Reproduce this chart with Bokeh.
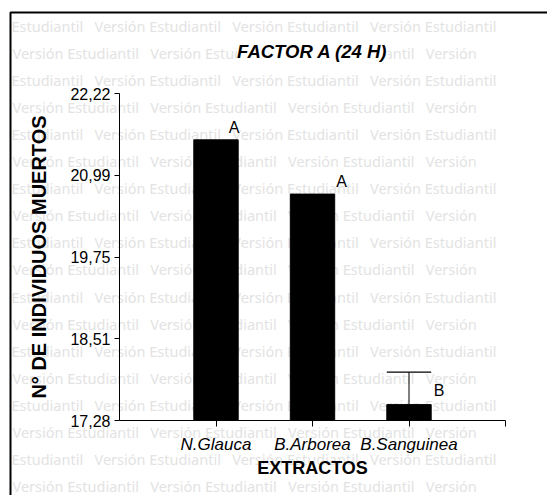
from bokeh.plotting import figure
from bokeh.models import Range1d, FixedTicker, Label, ColumnDataSource
from bokeh.embed import file_html
from bokeh.resources import INLINE

# ---- data ----
extractos = ["N.Glauca", "B.Arborea", "B.Sanguinea"]
posiciones = [1, 2, 3]
muertos = [21.52, 20.70, 17.52]
error_sup = [0.0, 0.0, 0.49]
letras = ["A", "A", "B"]
y_ticks = [17.28, 18.515, 19.75, 20.985, 22.22]
y_tick_labels = ["17,28", "18,51", "19,75", "20,99", "22,22"]
titulo = "FACTOR A (24 H)"
marca = "Versión Estudiantil"

FONT = "Liberation Sans"

W, H = 547, 495
FL, FT, FR, FB = 119, 93, 505, 420   # frame edges on the page

p = figure(width=W, height=H, output_backend="svg", toolbar_location=None,
           x_range=Range1d(0, 4), y_range=Range1d(y_ticks[0], y_ticks[-1]),
           min_border_left=FL, min_border_right=W - FR, min_border_top=FT,
           min_border_bottom=H - FB, title=titulo)

p.background_fill_color = "white"
p.border_fill_color = "white"
p.outline_line_color = None
p.xgrid.visible = False
p.ygrid.visible = False

SX = (FR - FL) / 4.0
SY = (FB - FT) / (y_ticks[-1] - y_ticks[0])
def dx(px):
    return (px - FL) / SX
def dy(py):
    return y_ticks[0] + (FB - py) / SY

# title
p.title.text_font = FONT
p.title.text_font_style = "bold italic"
p.title.text_font_size = "18.5px"
p.title.text_color = "black"
p.title.align = "center"
p.title.standoff = 64
p.title.background_fill_color = "white"

# watermark: anchored at the frame centre, shifted in screen pixels
cx, cy = (FL + FR) / 2, (FT + FB) / 2
gap = "\u00a0\u00a0 "
wm_text, wm_xo, wm_yo = [], [], []
for k in range(18):
    wy = 25 + 27.1 * k
    if k % 2 == 0:
        txt = "Estudiantil" + gap + (marca + gap) * 2 + marca
        wx = 11
    else:
        txt = (marca + gap) * 3 + "Versión"
        wx = 12
    wm_text.append(txt)
    wm_xo.append(wx - cx)
    wm_yo.append(min(wy, 485) - cy)
wm = ColumnDataSource(dict(x=[dx(cx)] * len(wm_text), y=[dy(cy)] * len(wm_text),
                           text=wm_text, xo=wm_xo, yo=wm_yo))
p.text(x="x", y="y", text="text", x_offset="xo", y_offset="yo", source=wm,
       text_font={"value": "Noto Sans"}, text_font_size="14.5px", text_color="#e3e3e3",
       text_align="left", text_baseline="middle", level="guide")

# outer border (top and left edges)
p.line(x=[dx(700), dx(10), dx(10)], y=[dy(12), dy(12), dy(700)],
       line_color="black", line_width=2, level="guide")

# bars
p.vbar(x=posiciones, top=muertos, bottom=y_ticks[0], width=0.46,
       fill_color="black", line_color="black", level="annotation")

# error bars
for xpos, m, e in zip(posiciones, muertos, error_sup):
    if e > 0:
        p.segment(x0=[xpos], y0=[m], x1=[xpos], y1=[m + e], line_color="black",
                  line_width=1, level="annotation")
        p.segment(x0=[xpos - 0.23], y0=[m + e], x1=[xpos + 0.23], y1=[m + e],
                  line_color="black", line_width=1.3, level="annotation")

# significance letters
offs = [(18, 12), (29, 12.5), (30, -18.5)]
for xpos, m, e, t, (ox, oy) in zip(posiciones, muertos, error_sup, letras, offs):
    p.add_layout(Label(x=xpos, y=m + e, text=t, x_offset=ox, y_offset=oy,
                       text_font=FONT, text_font_size="16px", text_color="black",
                       text_align="center", text_baseline="middle"))

# x axis
p.xaxis.ticker = FixedTicker(ticks=[1, 2, 3, 4])
p.xaxis.major_label_overrides = {1: extractos[0], 2: extractos[1], 3: extractos[2], 4: ""}
p.xaxis.major_label_text_font = FONT
p.xaxis.major_label_text_font_style = "italic"
p.xaxis.major_label_text_font_size = "17px"
p.xaxis.major_label_text_color = "black"
p.xaxis.major_label_standoff = 8
p.xaxis.major_tick_out = 6
p.xaxis.major_tick_in = 0
p.xaxis.minor_tick_line_color = None
p.xaxis.axis_label = "EXTRACTOS"
p.xaxis.axis_label_text_font = FONT
p.xaxis.axis_label_text_font_style = "bold"
p.xaxis.axis_label_text_font_size = "18px"
p.xaxis.axis_label_text_color = "black"
p.xaxis.axis_label_standoff = 1

# y axis
p.yaxis.ticker = FixedTicker(ticks=y_ticks)
p.yaxis.major_label_overrides = {v: s for v, s in zip(y_ticks, y_tick_labels)}
p.yaxis.major_label_text_font = FONT
p.yaxis.major_label_text_font_size = "16px"
p.yaxis.major_label_text_color = "black"
p.yaxis.major_label_standoff = 4
p.yaxis.major_tick_out = 5
p.yaxis.major_tick_in = 0
p.yaxis.minor_tick_line_color = None
p.yaxis.axis_label = "N° DE INDIVIDUOS MUERTOS"
p.yaxis.axis_label_text_font = FONT
p.yaxis.axis_label_text_font_style = "bold"
p.yaxis.axis_label_text_font_size = "20px"
p.yaxis.axis_label_text_color = "black"
p.yaxis.axis_label_standoff = 17

for ax in (p.xaxis, p.yaxis):
    ax.axis_line_color = "black"
    ax.major_tick_line_color = "black"
    ax.level = "annotation"

open("out.html", "w").write(file_html(p, INLINE))
